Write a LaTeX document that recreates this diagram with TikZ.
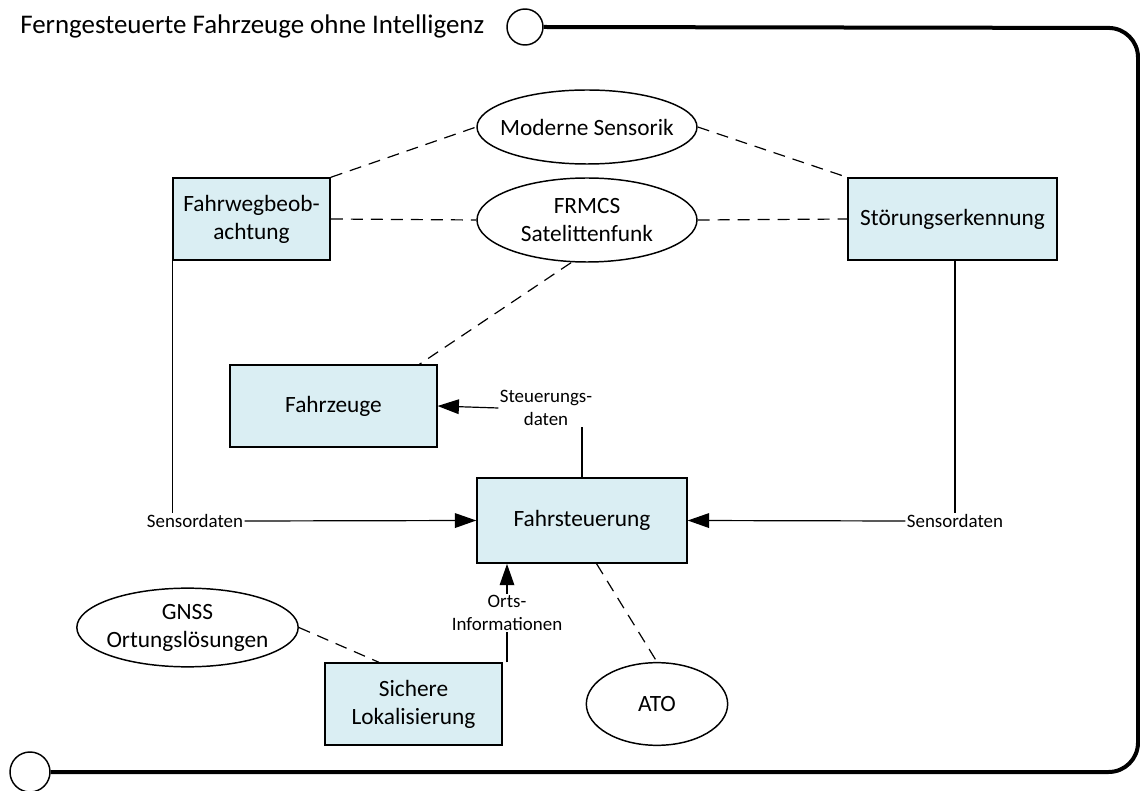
\documentclass[tikz,border=0pt]{standalone}
\usepackage{fontspec}
\setmainfont{Carlito}
\usetikzlibrary{arrows.meta,shapes.geometric}
\definecolor{boxfill}{HTML}{DAEEF3}
\begin{document}
\begin{tikzpicture}[x=0.75pt,y=-0.75pt,
  every node/.style={font=\fontsize{17.5}{21}\selectfont},
  blockbox/.style={draw=black,fill=boxfill,line width=1.1pt,align=center,inner sep=0pt},
  ovalbox/.style={draw=black,fill=white,ellipse,line width=1.1pt,align=center,inner xsep=-12pt,inner ysep=-4pt},
  smalllabel/.style={font=\fontsize{14.2}{17}\selectfont,align=center,inner sep=1pt},
  dashlink/.style={dashed,dash pattern=on 9pt off 6pt,line width=0.9pt},
  flow/.style={line width=0.9pt},
  tipflow/.style={line width=0.9pt,-{Triangle[length=16pt,width=11pt]}},
  frame/.style={line width=3pt}]
\useasboundingbox (0,0) rectangle (1140,791);

% title and frame
\node[anchor=west,inner sep=0pt,font=\fontsize{20.2}{24}\selectfont] (title) at (20,26) {Ferngesteuerte Fahrzeuge ohne Intelligenz};
\node[circle,draw,line width=1.1pt,minimum size=27pt,inner sep=0pt] (topcirc) at (525,27) {};
\node[circle,draw,line width=1.1pt,minimum size=30pt,inner sep=0pt] (botcirc) at (30,772) {};
\draw[frame,rounded corners=22pt] (topcirc.east) -- (1138,28) -- (1138,772) -- (botcirc.east);

% blocks
\node[blockbox,minimum width=118pt,minimum height=61.5pt] (weg) at (251.5,219) {Fahrwegbeob-\\achtung};
\node[blockbox,minimum width=157pt,minimum height=61.5pt] (stoer) at (952.5,219) {Störungserkennung};
\node[blockbox,minimum width=155pt,minimum height=61.5pt] (fzg) at (333.5,406) {Fahrzeuge};
\node[blockbox,minimum width=157.5pt,minimum height=64pt] (steuer) at (582,520.5) {Fahrsteuerung};
\node[blockbox,minimum width=133pt,minimum height=61.5pt] (lok) at (413.5,704) {Sichere\\Lokalisierung};

% ovals
\node[ovalbox,minimum width=165pt,minimum height=55.5pt] (sens) at (587,127) {Moderne Sensorik};
\node[ovalbox,minimum width=165pt,minimum height=63pt] (frmcs) at (587,220) {FRMCS\\Satelittenfunk};
\node[ovalbox,minimum width=166pt,minimum height=59pt] (gnss) at (187.5,627.5) {GNSS\\Ortungslösungen};
\node[ovalbox,minimum width=106pt,minimum height=62pt] (ato) at (657,704) {ATO};

% data labels
\node[smalllabel] (sdl) at (195,521) {Sensordaten};
\node[smalllabel] (sdr) at (955,521) {Sensordaten};
\node[smalllabel] (sdt) at (546,408) {Steuerungs-\\daten};
\node[smalllabel] (ort) at (507,613) {Orts-\\Informationen};

% anchor points on block edges
\coordinate (fzgtop) at ([xshift=64.5pt]fzg.north);
\coordinate (loktopl) at ([xshift=-26pt]lok.north);
\coordinate (steuerbot) at ([xshift=11pt]steuer.south);
\coordinate (frmcsbot) at ([xshift=-12pt]frmcs.south);

% dashed relations
\draw[dashlink] (weg.north east) -- (sens.west);
\draw[dashlink] (sens.east) -- (stoer.north west);
\draw[dashlink] (weg.east) -- (frmcs.west);
\draw[dashlink] (frmcs.east) -- (stoer.west);
\draw[dashlink] (frmcsbot) -- (fzgtop);
\draw[dashlink] (gnss.east) -- (loktopl);
\draw[dashlink] (steuerbot) -- (ato.north);

% data flows
\draw[flow] (weg.south west) -- (weg.south west |- sdl.north);
\draw[tipflow] (sdl.east) -- (steuer.west);
\draw[flow] (stoer.south -| sdr.north) -- (sdr.north);
\draw[tipflow] (sdr.west) -- (steuer.east);
\draw[flow] (steuer.north) -- (steuer.north |- sdt.south);
\draw[tipflow] (sdt.west) -- (fzg.east);
\draw[flow] (ort.south |- lok.north) -- (ort.south);
\draw[tipflow] (ort.north) -- (ort.north |- steuer.south);
\end{tikzpicture}
\end{document}
